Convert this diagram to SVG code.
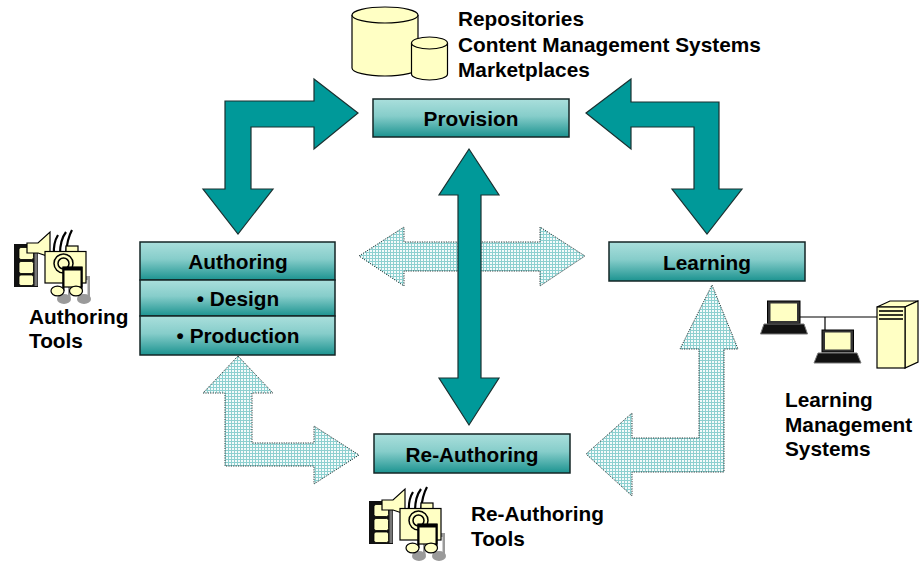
<svg xmlns="http://www.w3.org/2000/svg" width="921" height="561" viewBox="0 0 921 561">
  <defs>
    <style>
      .lbl { font-family: "Liberation Sans", Arial, sans-serif; font-weight: bold; font-size: 20.8px; fill: #000; }
      .mid { text-anchor: middle; }
      .box { fill: url(#boxGrad); stroke: #142626; stroke-width: 1.5; }
      .solid { fill: #009999; stroke: #1a3030; stroke-width: 1.2; stroke-linejoin: miter; }
      .hatch { fill: url(#check); stroke: #2a3a3a; stroke-width: 1; stroke-dasharray: 1.2 1.2; }
      .cream { fill: #ffffc4; stroke: #000; stroke-width: 1.2; }
    </style>
    <linearGradient id="boxGrad" x1="0" y1="0" x2="0" y2="1">
      <stop offset="0" stop-color="#aadfdc"/>
      <stop offset="0.45" stop-color="#86cdca"/>
      <stop offset="1" stop-color="#1c9390"/>
    </linearGradient>
    <pattern id="check" width="3" height="3" patternUnits="userSpaceOnUse">
      <rect width="3" height="3" fill="#f4fbfb"/>
      <rect width="3" height="1" fill="#8dd0d0"/>
      <rect width="1" height="3" fill="#8dd0d0"/>
    </pattern>
    <!-- media clip-art: film strip, speaker, camera and notes -->
    <g id="media">
      <!-- shadow notes -->
      <g fill="#9a9a9a">
        <rect x="68" y="276" width="22" height="4"/>
        <rect x="68" y="276" width="2.5" height="22"/>
        <rect x="87.5" y="276" width="2.5" height="22"/>
        <ellipse cx="64" cy="299" rx="7" ry="5"/>
        <ellipse cx="84" cy="299" rx="7" ry="5"/>
      </g>
      <!-- film strip -->
      <rect x="14" y="244" width="24" height="43" fill="#111"/>
      <rect x="19" y="247.5" width="14.5" height="12" rx="2" fill="#ffffc4" stroke="#000" stroke-width="0.8"/>
      <rect x="19" y="261.5" width="14.5" height="12" rx="2" fill="#ffffc4" stroke="#000" stroke-width="0.8"/>
      <rect x="19" y="275" width="14.5" height="10.5" rx="2" fill="#ffffc4" stroke="#000" stroke-width="0.8"/>
      <rect x="34.5" y="245" width="3" height="41" fill="#777"/>
      <!-- speaker -->
      <path class="cream" d="M27,243 h11 l12,-11 v25 l-12,-4 h-11 z"/>
      <!-- sound waves -->
      <g fill="none" stroke="#000" stroke-width="2.2">
        <path d="M54,255 q-1,-12 4,-20"/>
        <path d="M60,254 q0,-14 6,-22"/>
        <path d="M66,254 q1,-15 6,-24"/>
      </g>
      <!-- camera -->
      <rect class="cream" x="66" y="246" width="12" height="6"/>
      <rect class="cream" x="45" y="251.5" width="41" height="31.5"/>
      <circle cx="63.5" cy="263.5" r="9.5" fill="#ffffc4" stroke="#000" stroke-width="1.5"/>
      <circle cx="63.5" cy="263.5" r="5.5" fill="#ffffc4" stroke="#000" stroke-width="1.5"/>
      <!-- notes -->
      <rect class="cream" x="63" y="267" width="19" height="20"/>
      <rect x="63" y="267" width="19" height="3.5" fill="#000"/>
      <rect x="62.5" y="267" width="2" height="24" fill="#000"/>
      <rect x="80.5" y="267" width="2" height="24" fill="#000"/>
      <ellipse class="cream" cx="57.5" cy="291" rx="6.5" ry="4.8"/>
      <ellipse class="cream" cx="76" cy="291" rx="6.5" ry="4.8"/>
    </g>
  </defs>

  <rect width="921" height="561" fill="#fff"/>

  <!-- connectors -->
  <g id="connectors">
    <!-- faint hatched arrows -->
    <path class="hatch" d="M359,256 L404,227 L404,242 L540,242 L540,227 L585,256 L540,286 L540,271 L404,271 L404,286 Z"/>
    <path class="hatch" d="M238,356 L273,393 L252,393 L252,443 L314,443 L314,426 L359,455 L314,484 L314,466 L225,466 L225,393 L203,393 Z"/>
    <path class="hatch" d="M712,285 L738,349 L724,349 L724,472 L632,472 L632,496 L586,454 L632,413 L632,438 L699,438 L699,349 L680,349 Z"/>
    <!-- solid arrows -->
    <path class="solid" d="M358,113 L314,149 L314,127 L251,127 L251,189 L273,189 L238,234 L203,189 L225,189 L225,101 L314,101 L314,79 Z"/>
    <path class="solid" d="M586,113 L631,79 L631,102 L719,102 L719,189 L742,189 L707,234 L672,189 L694,189 L694,127 L631,127 L631,149 Z"/>
    <path class="solid" d="M469,149 L499,195 L481,195 L481,378 L499,378 L469,425 L439,378 L458,378 L458,195 L439,195 Z"/>
  </g>

  <!-- Provision -->
  <g id="provision">
    <path class="cream" d="M352,15 v53 a33,8 0 0 0 66,0 v-53"/>
    <ellipse class="cream" cx="385" cy="15" rx="33" ry="8"/>
    <path class="cream" d="M411.5,43 v31 a18,6 0 0 0 36,0 v-31"/>
    <ellipse class="cream" cx="429.5" cy="43" rx="18" ry="6"/>
    <text class="lbl" x="458" y="26">Repositories</text>
    <text class="lbl" x="458" y="52">Content Management Systems</text>
    <text class="lbl" x="458" y="77">Marketplaces</text>
    <rect class="box" x="373" y="99" width="196" height="38"/>
    <text class="lbl mid" x="471" y="126">Provision</text>
  </g>

  <!-- Authoring -->
  <g id="authoring">
    <rect class="box" x="140" y="242" width="195" height="38"/>
    <rect class="box" x="140" y="280" width="195" height="36"/>
    <rect class="box" x="140" y="316" width="195" height="39"/>
    <text class="lbl mid" x="238" y="269">Authoring</text>
    <text class="lbl mid" x="238" y="306">• Design</text>
    <text class="lbl mid" x="238" y="343">• Production</text>
    <use href="#media"/>
    <text class="lbl" x="29" y="324">Authoring</text>
    <text class="lbl" x="29" y="348">Tools</text>
  </g>

  <!-- Learning -->
  <g id="learning">
    <rect class="box" x="609" y="242" width="196" height="39"/>
    <text class="lbl mid" x="707" y="270">Learning</text>
    <!-- network -->
    <g stroke="#000" stroke-width="1.2">
      <line x1="800" y1="317" x2="878" y2="317"/>
      <line x1="825" y1="317" x2="825" y2="330"/>
    </g>
    <rect x="767.5" y="301" width="32.5" height="22.5" fill="#333" stroke="#000"/>
    <rect x="770.5" y="303.5" width="26.5" height="17.5" fill="#ffffc4"/>
    <path d="M764,324 H804 L807.5,334 H760.5 Z" fill="#111" stroke="#777" stroke-width="1"/>
    <rect x="822" y="330" width="31.5" height="22" fill="#333" stroke="#000"/>
    <rect x="825" y="332.5" width="25.5" height="17" fill="#ffffc4"/>
    <path d="M818,353 H857 L861,363 H814 Z" fill="#111" stroke="#777" stroke-width="1"/>
    <path class="cream" d="M877,307 L890,301 L918,301 L905,307 Z"/>
    <path class="cream" d="M905,307 L918,301 L918,362 L905,368 Z"/>
    <rect class="cream" x="877" y="307" width="28" height="61"/>
    <g stroke="#000" stroke-width="1.6">
      <line x1="879" y1="311" x2="903" y2="311"/>
      <line x1="879" y1="315" x2="903" y2="315"/>
      <line x1="879" y1="319" x2="903" y2="319"/>
    </g>
    <text class="lbl" x="785" y="407">Learning</text>
    <text class="lbl" x="785" y="432">Management</text>
    <text class="lbl" x="785" y="456">Systems</text>
  </g>

  <!-- Re-Authoring -->
  <g id="re-authoring">
    <rect class="box" x="374" y="434" width="196" height="39"/>
    <text class="lbl mid" x="472" y="462">Re-Authoring</text>
    <use href="#media" transform="translate(355,257)"/>
    <text class="lbl" x="471" y="521">Re-Authoring</text>
    <text class="lbl" x="471" y="546">Tools</text>
  </g>
</svg>
